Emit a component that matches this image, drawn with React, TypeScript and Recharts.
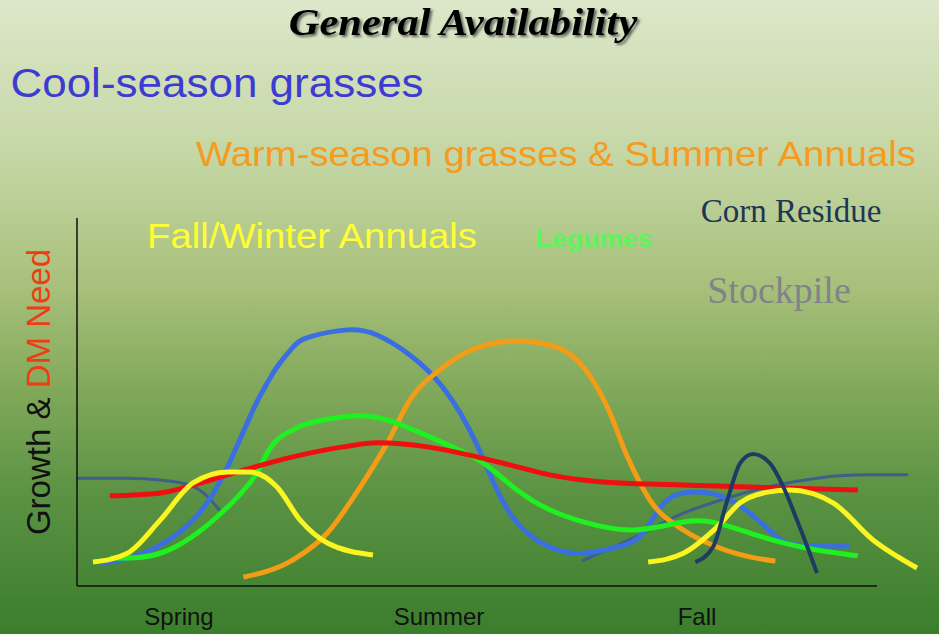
import React from 'react';
import { LineChart, Line, XAxis, YAxis, ReferenceLine, Label } from 'recharts';

// x: position through the season on a 0-100 scale (axis ends at 100), y: relative growth / need
const coolSeason = [
    { x: 2.9, y: 6.3 }, { x: 8.3, y: 8.9 }, { x: 14.5, y: 17.9 }, { x: 18.8, y: 32.3 }, { x: 22, y: 47.8 },
    { x: 23.8, y: 55.2 }, { x: 25, y: 59.5 }, { x: 27, y: 64.9 }, { x: 29.1, y: 67.7 }, { x: 33.8, y: 69.6 },
    { x: 37.5, y: 68.2 }, { x: 41.6, y: 62.8 }, { x: 45.8, y: 53.8 }, { x: 50, y: 38.3 }, { x: 54.1, y: 19.8 },
    { x: 59.1, y: 10.6 }, { x: 63.3, y: 8.9 }, { x: 67.5, y: 10.6 }, { x: 70.8, y: 14.4 }, { x: 73.8, y: 23.4 },
    { x: 77.9, y: 25.5 }, { x: 80.8, y: 24.2 }, { x: 84.1, y: 19.8 }, { x: 87.5, y: 13.3 }, { x: 90.4, y: 11.1 },
    { x: 96.6, y: 10.9 },
];
const warmSeason = [
    { x: 20.8, y: 2.4 }, { x: 27, y: 7.1 }, { x: 31.3, y: 14.4 }, { x: 35.4, y: 26.9 }, { x: 38.8, y: 38.9 },
    { x: 41.6, y: 50.5 }, { x: 45.8, y: 59.5 }, { x: 50, y: 64.7 }, { x: 55, y: 66.6 }, { x: 59.1, y: 65.5 },
    { x: 63.3, y: 59.5 }, { x: 66.3, y: 48.6 }, { x: 68.8, y: 35.1 }, { x: 71.6, y: 23.4 }, { x: 75.8, y: 15.2 },
    { x: 80, y: 10.6 }, { x: 84.1, y: 7.9 }, { x: 87.3, y: 6.8 },
];
const legumes = [
    { x: 4.1, y: 7.6 }, { x: 10.4, y: 8.9 }, { x: 16.6, y: 17.1 }, { x: 21.6, y: 28 }, { x: 23.3, y: 34.2 },
    { x: 25, y: 39.7 }, { x: 27, y: 42.4 }, { x: 29.1, y: 44.3 }, { x: 34.5, y: 46.2 }, { x: 39.5, y: 44.6 },
    { x: 45.8, y: 38.9 }, { x: 50.8, y: 33.4 }, { x: 55, y: 26.1 }, { x: 59.1, y: 20.7 }, { x: 63.3, y: 17.4 },
    { x: 69.5, y: 15.2 }, { x: 75.8, y: 17.4 }, { x: 80, y: 17.1 }, { x: 84.1, y: 14.4 }, { x: 88.3, y: 11.7 },
    { x: 92.5, y: 9.8 }, { x: 97.6, y: 8.2 },
];
const dmNeed = [
    { x: 4.1, y: 24.5 }, { x: 10.4, y: 25.3 }, { x: 14.5, y: 27.4 }, { x: 20.8, y: 31.5 }, { x: 27, y: 35.1 },
    { x: 33.3, y: 37.8 }, { x: 37.5, y: 38.9 }, { x: 43.8, y: 37.8 }, { x: 50, y: 35.1 }, { x: 54.1, y: 32.9 },
    { x: 59.1, y: 30.2 }, { x: 65.4, y: 28.3 }, { x: 71.6, y: 27.7 }, { x: 80, y: 27.2 }, { x: 88.3, y: 26.6 },
    { x: 97.6, y: 26.1 },
];
const winterAnnualsSpring = [
    { x: 2, y: 6.5 }, { x: 6.3, y: 8.9 }, { x: 10.4, y: 17.9 }, { x: 14.5, y: 28 }, { x: 18.8, y: 31 },
    { x: 21.6, y: 31 }, { x: 25, y: 26.9 }, { x: 27.9, y: 17.9 }, { x: 31.3, y: 11.7 }, { x: 37, y: 8.4 },
];
const winterAnnualsFall = [
    { x: 71.4, y: 6.5 }, { x: 75.8, y: 8.9 }, { x: 80, y: 16 }, { x: 82.9, y: 22.6 }, { x: 86.3, y: 25.5 },
    { x: 89.1, y: 26.1 }, { x: 94.5, y: 22.6 }, { x: 99.5, y: 12.5 }, { x: 105, y: 4.9 },
];
const cornResidue = [
    { x: 77.3, y: 6.5 }, { x: 79.5, y: 10.6 }, { x: 81.3, y: 23.4 }, { x: 82.9, y: 33.4 }, { x: 84.5, y: 35.9 },
    { x: 86.6, y: 33.4 }, { x: 88.3, y: 26.9 }, { x: 90, y: 17.9 }, { x: 91.3, y: 10.6 }, { x: 92.5, y: 3.5 },
];
const stockpileSpring = [
    { x: 0, y: 29.3 }, { x: 6.3, y: 29.3 }, { x: 10.4, y: 28.8 }, { x: 14.1, y: 27.4 }, { x: 15.8, y: 25.3 },
    { x: 17.9, y: 20.4 },
];
const stockpileFall = [
    { x: 63.1, y: 6.8 }, { x: 69.5, y: 13 }, { x: 75.8, y: 19.8 }, { x: 81.3, y: 23.9 }, { x: 86.3, y: 26.9 },
    { x: 92.5, y: 29.3 }, { x: 98.8, y: 30.2 }, { x: 103.9, y: 30.2 },
];

const seasonTicks = [12.75, 45.25, 77.5];
const seasonLabels = ['Spring', 'Summer', 'Fall'];

const SANS = '"Liberation Sans", Arial, sans-serif';
const SERIF = '"Liberation Serif", "Times New Roman", serif';

const SeasonTick = ({ x, y, payload }: any) => {
    const i = seasonTicks.indexOf(payload.value);
    return (
        <text x={x} y={y + 39} textAnchor="middle" fontSize={24} fill="#111" fontFamily={SANS}>
            {seasonLabels[i]}
        </text>
    );
};

const AxisTitle = () => (
    <text transform="translate(50,392) rotate(-90)" textAnchor="middle" fontSize={33} fontFamily={SANS}>
        <tspan fill="#111">Growth &amp; </tspan>
        <tspan fill="#f03c14">DM Need</tspan>
    </text>
);

// slide text, stretched horizontally like the original slide
const SlideText = ({ cx, y, sx = 1, children, ...rest }: any) => (
    <text transform={`translate(${cx},${y}) scale(${sx},1)`} textAnchor="middle" {...rest}>
        {children}
    </text>
);

const App: React.FC = () => {
    return (
        <div style={{
            position: 'relative', width: 939, height: 634, overflow: 'hidden',
            background: 'linear-gradient(to bottom, #dde7ca 0%, #c4d6a4 25%, #a8c07b 45%, #80a859 62%, #5b9243 78%, #3a7e2c 100%)',
        }}>
            <style>{'body{margin:0}'}</style>
            <LineChart width={939} height={634} margin={{ top: 218, right: 22, bottom: 0, left: 0 }}>
                <XAxis
                    type="number" dataKey="x" domain={[0, 105]} ticks={seasonTicks} height={48}
                    axisLine={false} tickLine={false} tickSize={0} tickMargin={0} tick={<SeasonTick />}
                    interval={0}
                />
                <YAxis
                    type="number" dataKey="y" domain={[0, 100]} width={77} tick={false} tickLine={false}
                    axisLine={{ stroke: '#111', strokeWidth: 1.5 }}
                >
                    <Label content={<AxisTitle />} />
                </YAxis>
                <ReferenceLine segment={[{ x: 0, y: 0 }, { x: 100, y: 0 }]} stroke="#111" strokeWidth={1.5} />
                <Line data={stockpileSpring} dataKey="y" type="monotone" stroke="#3d5f8a" strokeWidth={3} dot={false} isAnimationActive={false} />
                <Line data={stockpileFall} dataKey="y" type="monotone" stroke="#3d5f8a" strokeWidth={3} dot={false} isAnimationActive={false} />
                <Line data={coolSeason} dataKey="y" type="natural" stroke="#3b6fe0" strokeWidth={5} dot={false} isAnimationActive={false} />
                <Line data={warmSeason} dataKey="y" type="monotone" stroke="#f39c15" strokeWidth={5} dot={false} isAnimationActive={false} />
                <Line data={legumes} dataKey="y" type="natural" stroke="#1ff01f" strokeWidth={5} dot={false} isAnimationActive={false} />
                <Line data={dmNeed} dataKey="y" type="monotone" stroke="#ee1010" strokeWidth={5} dot={false} isAnimationActive={false} />
                <Line data={winterAnnualsSpring} dataKey="y" type="monotone" stroke="#faf520" strokeWidth={5} dot={false} isAnimationActive={false} />
                <Line data={winterAnnualsFall} dataKey="y" type="monotone" stroke="#faf520" strokeWidth={5} dot={false} isAnimationActive={false} />
                <Line data={cornResidue} dataKey="y" type="monotone" stroke="#1f3b63" strokeWidth={4} dot={false} isAnimationActive={false} />
            </LineChart>
            <svg width={939} height={634} style={{ position: 'absolute', left: 0, top: 0, pointerEvents: 'none' }}>
                <defs>
                    <filter id="titleShadow" x="-10%" y="-30%" width="120%" height="160%">
                        <feDropShadow dx={2} dy={2} stdDeviation={1} floodColor="#333" floodOpacity={0.7} />
                    </filter>
                </defs>
                <SlideText cx={463} y={35} sx={1.12} fontFamily={SERIF} fontWeight="bold" fontStyle="italic" fontSize={38} fill="#000" filter="url(#titleShadow)">General Availability</SlideText>
                <SlideText cx={217} y={97} sx={1.1} fontFamily={SANS} fontSize={40} fill="#3c3cd2">Cool-season grasses</SlideText>
                <SlideText cx={556} y={166} sx={1.11} fontFamily={SANS} fontSize={34.5} fill="#f59b1e">Warm-season grasses &amp; Summer Annuals</SlideText>
                <SlideText cx={312} y={248} sx={1.11} fontFamily={SANS} fontSize={34.5} fill="#ffff33">Fall/Winter Annuals</SlideText>
                <SlideText cx={594} y={247} sx={1.11} fontFamily={SANS} fontWeight="bold" fontSize={24} fill="#5cf55c">Legumes</SlideText>
                <SlideText cx={791} y={222} fontFamily={SERIF} fontSize={33} fill="#1f3556">Corn Residue</SlideText>
                <SlideText cx={779} y={303} fontFamily={SERIF} fontSize={38} fill="#808488">Stockpile</SlideText>
            </svg>
        </div>
    );
};

export default App;
